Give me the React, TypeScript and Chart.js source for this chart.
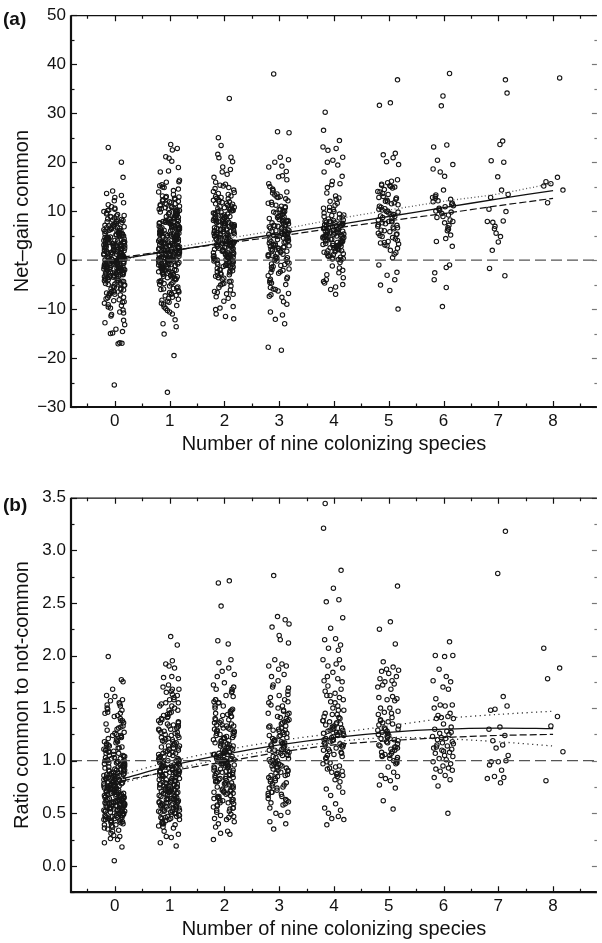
import React, { useEffect, useRef } from 'react';
import { Chart, registerables } from 'chart.js';

Chart.register(...registerables);

const FONT = "'Liberation Sans', Arial, Helvetica, sans-serif";

// Horizontal jitter offsets used to spread the points of one category
const JITTER = [-0.12, 0.07, -0.18, 0.15, -0.03, 0.11, -0.15, 0.02, 0.17, -0.08, 0.05, -0.19, 0.13, -0.01, 0.09, -0.14, 0.16, -0.06, 0.03, -0.17, 0.12, -0.1, 0.08, -0.04, 0.18, -0.13, 0.0, 0.14, -0.16, 0.06, -0.07, 0.1, -0.2, 0.04, -0.11, 0.16, -0.02];

const CATEGORIES = [0, 1, 2, 3, 4, 5, 6, 7, 8];

// ---------- Panel (a): Net-gain common ----------
const A0 = [
  23, -2.1, 5.4, 0.8, -6.3, 3.2, 9.6, -0.5, 1.9, -9.8, 6.7, -3.4, 2.4, 12.1, -1.2, 4.1, -7.6, 0.2, 7.9, -4.8,
  20, 3.6, -1.7, 8.2, -5.1, 1.3, 10.4, -2.9, 5.8, -0.1, -11.4, 2.7, 6.2, -3.8, 0.5, 11.7, -8.3, 4.5, -1.4, 7.1,
  16.9, -0.9, 2.1, -6.7, 5.1, 9.1, -2.4, 3.9, -4.2, 0.9, 8.6, -10.6, 1.6, -0.3, 6.4, -5.7, 3.3, 13.2, -1.9, 4.8,
  14.1, 0.1, -3.6, 7.4, 1.1, -7.9, 5.6, -1.1, 2.9, 9.9, -4.5, 0.4, -12.3, 6.9, -2.6, 3.5, -0.7, 8.1, -5.4, 2.2,
  13.6, -14.1, 4.3, -1.5, 1.7, -8.8, 7.7, -3.1, 5.2, 0.7, -6.1, 10.9, -0.2, 3.1, -9.3, 6.1, -2.2, 1.4, -13.2, 4.6,
  12.8, -14.6, 2.6, -4.1, 8.8, 0.3, -1.8, 5.9, -7.3, 3.8, -0.6, 11.3, -3.3, 1.8, -10.2, 7.2, -5.8, 4.4, -2.7, 0.6,
  -15, 9.3, -1.3, 2.3, -6.5, 6.5, -0.4, 4.9, -11.1, 1.2, -3.9, 8.3, 0.0, -8.1, 3.4, -2.0, 10.1, -4.9, 5.3, -1.0,
  -17.1, 1.5, -7.1, 4.0, -0.8, 7.0, -2.5, 2.0, -9.1, 5.7, -12.8, 0.9, -3.5, 6.0, -1.6, 3.0, -5.2, 8.9, -0.1, 2.5,
  -17.0, -25.5, -16.9, 4.7, -4.4, 0.2, 9.0, -2.8, 1.0, -6.9, 5.5, -14.9, 3.7, -1.3, 10.6, -8.6, 2.8, -0.5, 6.6, -3.0,
  1.3, -2.3, 4.2, -0.6, 2.8, -4.0, 0.4, 5.9, -1.5, 3.0, -6.0, 1.8, -0.2, 6.8, -3.2, 2.1, -1.0, 4.9, -5.5, 0.9,
  3.6, -1.9, 0.2, 7.5, -3.7, 1.5, -0.8, 5.0, -2.6, 2.4, 8.4, -7.0, 0.6, 3.9, -1.3, 6.3, -4.7, 1.1, -2.9, 4.4,
  -0.4, 2.6, -5.0, 5.5, 0.0, -3.0, 3.3, -1.6, 9.4, 1.7, -8.5, 4.7, -0.9, 2.0, -4.3, 7.0, 0.8, -2.1, 3.7, -6.4,
  5.2, -1.1, 1.0, -3.5, 6.0, -0.3, 2.9, -7.7, 4.0, 0.5, -2.4, 8.0, -5.9, 1.4, 3.1, -1.7, 10.2, -0.7, 2.2, -9.6,
  0.3, 4.6, -2.8, 1.9, -4.9, 6.6, -0.1, 3.4, -6.8, 2.7, -1.4, 5.4, -3.3, 0.7, 7.8, -10.8, 1.6, -0.5, 4.1, -2.0,
];
const A1 = [
  23.6, 1.2, 7.8, -3.5, 10.4, 4.1, -0.7, 12.6, 2.5, -6.2, 8.9, 0.3, 5.6, -2.1, 14.8, 3.3, -8.4, 6.7, -1.2, 9.7,
  22.8, 6.1, -4.6, 2.0, 11.5, -0.2, 4.8, -9.1, 8.0, 1.7, -2.9, 13.4, 5.2, -5.5, 3.9, 10.0, -1.6, 7.3, 0.8, -7.3,
  22.5, -0.5, 9.2, 3.0, -3.8, 15.4, 6.5, 1.0, -6.8, 11.1, 4.4, -1.9, 8.4, -10.3, 2.7, 12.1, -0.1, 5.0, -4.2, 7.1,
  21.1, 4.0, -2.4, 10.8, 0.5, -8.0, 7.6, 2.3, 14.2, -5.0, 5.8, -0.9, 9.5, 3.6, -3.1, 12.9, 1.4, -7.6, 6.9, 0.0,
  20.8, 8.6, -1.4, 3.8, 15.9, -4.9, 5.4, 1.9, -9.6, 10.6, -0.4, 6.3, -2.6, 11.9, 4.7, -6.0, 2.9, 8.1, -1.1, 13.9,
  20.2, -3.3, 7.0, 0.6, 12.3, -5.8, 4.2, 9.9, -1.7, 2.1, -8.8, 6.0, 16.0, -0.6, 3.4, -4.4, 10.2, 1.1, -2.0, 5.7,
  18.9, 2.6, -7.0, 11.3, 4.9, -0.3, 8.8, -3.6, 1.5, 14.9, -5.3, 7.4, -1.3, 3.1, -9.9, 9.1, 0.2, 6.6, -2.8, 12.0,
  18.2, -13.0, 5.1, 15.2, -0.8, 3.5, -4.0, 10.5, 1.8, -6.5, 7.7, -11.0, 2.4, 9.3, -2.3, 4.6, -8.2, 6.2, 0.9, 11.7,
  18.0, -13.6, -15.1, -19.5, -27.0, 16.3, 13.1, -10.6, 8.3, 0.4, -3.0, 5.3, -12.2, 2.2, 10.9, -1.5, 4.3, -7.8, 7.9, 1.3,
  3.2, 6.4, -0.4, 9.0, 1.6, -3.2, 5.5, 11.6, 0.1, 7.5, -5.7, 2.8, 4.5, -1.8, 8.7, 13.0, -0.9, 3.7, -7.2, 6.1,
  1.0, 5.0, 10.1, -2.2, 2.9, 7.2, -4.5, 0.7, 4.1, 12.4, -1.0, 6.8, 2.0, -6.3, 9.4, 3.5, -3.0, 5.9, 1.3, 8.0,
  4.8, -0.7, 7.9, 2.4, 10.7, -2.5, 0.4, 5.3, -8.6, 3.0, 6.6, 14.5, -1.4, 1.8, 9.8, 4.2, -4.8, 7.0, 0.0, 11.0,
  2.1, 8.3, -3.4, 5.7, 0.9, 12.8, -1.2, 3.9, 6.9, -5.9, 1.5, 10.4, 4.6, -0.2, 7.6, 2.7, -2.7, 9.1, 0.6, 5.1,
  -0.5, 3.3, 6.2, 1.1, -9.3, 8.5, 4.3, -1.6, 2.5, 11.4, 0.3, 6.5, -3.8, 3.6, 7.8, -0.1, 1.9, 4.9, -6.6, 9.6,
];
const A2 = [
  33, 5.2, -1.4, 9.8, 2.6, 14.6, -4.3, 7.1, 0.6, 11.8, 3.7, -6.6, 8.5, -0.2, 13.0, 4.4, -2.7, 10.3, 1.5, 6.4,
  25.0, 1.1, 7.9, -3.1, 12.5, 4.9, -0.8, 9.0, 2.9, -7.5, 15.5, 5.7, -1.9, 8.2, 0.3, 11.0, -4.8, 6.8, 3.2, -9.5,
  23.4, 8.8, 0.0, 5.9, -5.6, 10.6, 3.5, 13.8, -2.4, 7.4, 1.9, -10.1, 9.4, 4.1, -0.5, 12.2, 6.1, -3.6, 2.3, 15.1,
  21.6, -1.1, 6.6, 11.4, 2.0, -6.1, 8.0, 4.6, 14.3, -2.0, 5.4, 0.9, 10.0, -8.4, 3.0, 7.6, -0.3, 12.8, 1.3, 9.6,
  21.0, 20.9, 4.3, -3.9, 10.8, 2.7, 7.0, -1.6, 15.9, 5.0, -5.1, 8.9, 0.7, 11.6, 3.9, -7.0, 6.3, -0.9, 13.4, 2.2,
  20.1, 19.0, 18.5, -11.0, -11.5, -12.0, -9.8, 17.5, 16.9, 7.3, 1.7, -4.4, 5.6, 10.1, -2.9, 3.4, 8.6, 0.2, 12.0, 4.8,
  18.0, 6.9, -0.6, 9.2, 2.5, -3.3, 11.2, 5.3, 1.0, 14.0, -6.9, 7.8, 3.6, -1.3, 10.5, 0.4, 6.0, -2.2, 8.3, 4.0,
  4.2, 7.5, 1.4, 10.9, -0.7, 5.5, 2.8, 8.7, -3.0, 12.6, 3.3, 6.2, 0.1, 9.3, -5.3, 4.7, 14.8, 1.8, 7.2, -1.7,
  2.6, 6.7, 11.5, 0.5, 4.5, -2.3, 8.1, 3.8, 13.6, -0.4, 5.8, 9.9, 1.2, -6.4, 7.0, 2.1, 10.4, 4.4, -1.1, 6.0,
  5.1, 0.8, 8.4, 3.0, -3.7, 11.9, 6.5, 1.6, 9.0, -0.9, 4.9, 13.1, 2.4, 7.7, -4.9, 5.4, 0.0, 10.7, 3.6, 8.8,
  1.5, 6.3, -2.6, 9.6, 4.0, 12.3, 0.6, 7.4, 2.9, -7.8, 5.9, 10.2, 3.4, -1.4, 8.2, 1.1, 6.8, 15.3, 4.6, -0.2,
];
const A3 = [
  38, 4.5, 12.9, -1.8, 7.6, 2.0, 16.4, -5.6, 9.3, 0.7, 5.8, -3.2, 11.0, 3.1, 8.1, -6.3, 14.5, 1.2, 6.8, -0.4,
  26.2, 7.2, -2.5, 10.4, 4.0, 13.3, -7.6, 5.2, 0.1, 8.9, 2.7, -4.7, 12.1, 6.0, -1.1, 15.0, 3.7, 9.8, -8.5, 4.8,
  26.0, 1.9, 9.0, -3.8, 6.5, 17.2, 3.3, -0.9, 11.6, 5.5, -5.9, 7.9, 2.4, 13.7, -2.1, 8.5, 0.5, 4.2, 10.7, -7.1,
  21.0, 20.5, 20.0, 19.2, 19.0, 18.1, 17.0, 6.3, -1.5, 3.9, 9.6, 1.6, -4.2, 12.5, 5.0, 7.5, -0.2, 2.9, 11.3, 8.3,
  -9.0, -10.6, -11.2, -12.1, -13.0, -17.8, -18.4, 14.2, 4.4, 6.9, 0.9, 10.0, 3.5, -3.5, 8.7, 5.8, 2.2, 13.0, -6.8, 7.0,
  5.4, 1.0, 8.0, -2.7, 3.6, 11.8, 6.2, 0.3, 9.2, 4.1, -5.0, 7.1, 2.6, 13.5, -0.6, 5.9, 10.3, 1.8, -3.9, 7.8,
  3.0, 9.9, 0.8, 6.4, -1.3, 4.6, 12.8, 2.1, 8.4, -7.4, 5.1, 1.4, 10.9, 3.8, -2.4, 7.4, 0.0, 6.6, 15.6, 4.3,
  2.4, 8.8, -0.8, 5.6, 11.2, 1.7, -4.6, 7.0, 3.2, 9.6, 0.4, 6.0, -1.9, 4.9, 13.9, 2.8, 8.1, -6.0, 5.2, 1.1,
];
const A4 = [
  30.2, 6.2, 2.5, 9.4, 4.7, 12.4, 0.9, 7.3, 3.4, 14.8, 5.6, 1.6, 8.8, -1.2, 6.9, 3.9, 11.2, 0.3, 7.9, 4.9,
  26.5, 5.1, 10.3, 2.1, 7.0, -2.1, 4.3, 13.1, 6.5, 0.6, 8.4, 3.0, 15.4, 5.3, -3.0, 9.9, 1.9, 6.0, 3.6, 12.0,
  24.4, 23.1, 22.8, 22.4, 21.0, 20.4, 20.0, 19.4, 18.0, 17.1, 16.1, 15.6, 4.0, 7.6, 1.3, 10.8, 5.8, -4.4, 2.8, 8.1,
  -2.6, -4.0, -5.0, -6.0, -7.0, -4.7, 3.3, 6.6, 0.1, 9.1, 4.6, 13.7, 2.4, 7.1, 5.0, 11.6, 1.0, 8.6, 3.2, 6.3,
  4.1, 7.5, 0.4, 5.6, 2.2, 9.6, 3.7, 6.8, -0.5, 4.8, 1.7, 8.2, 5.4, 2.9, 10.6, 0.0, 6.1, 3.1, 7.7, 4.4,
  5.7, 2.0, 7.2, 3.5, 0.8, 6.4, 4.2, 9.2, 1.4, 5.2, 3.8, 8.0, 2.6, 6.7, -1.6, 4.5, 7.0, 1.9, 5.9, 3.0,
  6.0, 2.3, 8.9, 4.9, 0.2, 7.4, 3.4, 5.5, -3.6, 10.1, 2.7, 6.5, 4.1, 1.1, 12.7, 5.1, 3.9, 7.8, -5.5, 4.6,
];
const A5 = [
  36.8, 15.8, 10.2, 4.6, 12.8, 7.1, 2.9, 14.9, 9.0, 5.8, 11.3, 3.6, 16.1, 8.2, 1.5, 13.4, 6.4, 10.8, 4.0, 12.0,
  32.1, 31.6, 21.8, 21.5, 20.9, 20.1, 19.5, 15.3, 9.6, 5.2, 13.9, 7.8, 3.1, 11.7, 6.9, 15.0, 8.7, 2.4, 10.0, 4.8,
  0.5, -1.0, -2.5, -3.1, -4.0, -5.1, -6.2, -10.0, 14.4, 8.0, 5.5, 12.4, 3.8, 9.3, 6.1, 16.4, 7.4, 2.0, 11.0, 4.3,
  13.0, 6.7, 9.9, 3.3, 15.5, 7.9, 12.7, 5.0, 8.5, 10.5, 1.2, 14.0,
  9.4, 13.6, 6.6, 11.9, 7.6, 14.7, 10.4, 5.3, 12.2, 8.9, 3.5, 15.2, 9.8, 6.0, 11.5, 7.2,
];
const A6 = [38.1, 12.6, 7.6, 19.5, 10.4, -1.5, 11.9, 5.1, 33.5, 9.2, 13.3, 2.8, 18.0, 10.9, -4.0, 8.2, 12.1, 6.6, 31.5, 11.1, 3.8, 14.3, 9.8, -2.6, 23.5, 10.1, 7.1, 12.8, 4.4, 20.4, 11.6, -9.5, 8.7, 6.0, 23.1, 11.4, 9.5, -1.0, 13.0, 17.1, 7.9, 10.6, -5.6, 18.6, 12.4, 8.9, 6.3, 10.0];
const A7 = [36.8, 17.0, 8.0, 12.8, 34.1, 6.9, 23.6, 10.4, -3.2, 7.7, 24.3, 5.5, 13.4, 20.3, 3.7, 9.9, -1.7, 14.3, 6.4, 20.0, 7.9, 4.8, 2.0];
const A8 = [15.1, 37.2, 11.7, 16.9, 15.6, 14.3, 16.0];

// ---------- Panel (b): Ratio common to not-common ----------
const B0 = [
  1.99, 0.72, 0.48, 1.05, 0.61, 1.32, 0.83, 0.39, 0.95, 0.55, 1.18, 0.67, 1.48, 0.78, 0.43, 1.01, 0.58, 0.88, 1.25, 0.52,
  1.77, 0.64, 1.12, 0.47, 0.91, 0.35, 0.76, 1.38, 0.57, 0.99, 0.69, 1.52, 0.44, 0.85, 1.08, 0.60, 0.80, 1.21, 0.50, 0.93,
  1.75, 0.81, 0.41, 1.15, 0.66, 0.97, 0.54, 1.43, 0.74, 0.46, 1.03, 0.62, 1.29, 0.87, 0.38, 0.70, 1.10, 0.56, 0.90, 1.55,
  1.68, 0.59, 1.00, 0.45, 0.79, 1.35, 0.65, 0.31, 0.96, 0.53, 1.19, 0.73, 0.49, 1.06, 0.84, 0.63, 1.45, 0.40, 0.77, 0.92,
  1.62, 0.68, 1.27, 0.51, 0.89, 0.36, 1.13, 0.71, 0.58, 1.50, 0.82, 0.42, 0.98, 0.66, 1.23, 0.55, 0.86, 0.33, 1.04, 0.75,
  1.61, 1.58, 0.62, 0.94, 0.47, 1.40, 0.78, 0.57, 1.09, 0.69, 0.29, 0.84, 1.31, 0.52, 0.99, 0.73, 0.44, 1.16, 0.61, 0.88,
  0.26, 0.25, 0.22, 0.18, 0.05, 0.28, 1.53, 0.64, 1.02, 0.48, 0.83, 1.22, 0.59, 0.76, 0.37, 0.95, 1.46, 0.70, 0.54, 1.07,
  0.80, 0.43, 0.67, 1.11, 0.50, 0.91, 1.36, 0.60, 0.74, 0.34, 1.00, 0.56, 0.86, 1.24, 0.46, 0.79, 0.65, 1.57, 0.53, 0.97,
  0.62, 0.85, 0.50, 0.73, 1.04, 0.58, 0.91, 0.44, 0.68, 1.14, 0.55, 0.79, 0.97, 0.63, 1.26, 0.48, 0.71, 0.88, 0.41, 1.02,
  0.76, 0.53, 0.94, 0.66, 1.09, 0.45, 0.82, 0.60, 1.33, 0.70, 0.51, 0.87, 1.17, 0.57, 0.74, 0.99, 0.39, 0.64, 1.42, 0.81,
  0.56, 0.90, 0.69, 1.20, 0.47, 0.78, 1.05, 0.61, 0.84, 0.52, 1.49, 0.72, 0.95, 0.59, 1.12, 0.43, 0.67, 0.86, 1.30, 0.75,
  0.93, 0.54, 0.80, 1.07, 0.65, 0.49, 0.89, 1.38, 0.71, 0.57, 1.00, 0.77, 0.46, 1.18, 0.63, 0.83, 1.54, 0.68, 0.96, 0.60,
  0.74, 1.03, 0.52, 0.87, 0.66, 1.24, 0.58, 0.79, 0.92, 0.42, 1.10, 0.70, 0.55, 1.45, 0.82, 0.62, 0.98, 0.50, 0.76, 1.15,
];
const B1 = [
  2.18, 0.88, 1.25, 0.52, 1.02, 0.69, 1.48, 0.81, 0.41, 1.12, 0.63, 0.95, 1.36, 0.57, 0.76, 1.60, 0.47, 0.90, 1.19, 0.71,
  2.10, 0.66, 1.08, 0.43, 0.84, 1.30, 0.58, 0.99, 1.55, 0.74, 0.37, 1.15, 0.86, 0.61, 1.42, 0.50, 0.93, 0.79, 1.22, 0.68,
  1.95, 1.03, 0.55, 1.33, 0.77, 0.45, 0.97, 1.65, 0.64, 0.89, 1.17, 0.53, 0.73, 1.44, 0.83, 0.40, 1.06, 0.60, 1.27, 0.92,
  1.92, 0.72, 1.38, 0.49, 0.95, 0.62, 1.21, 0.85, 0.36, 1.52, 0.70, 1.00, 0.56, 1.13, 0.80, 1.68, 0.46, 0.91, 1.29, 0.65,
  1.90, 1.88, 0.59, 1.10, 0.82, 1.46, 0.51, 0.75, 1.04, 0.67, 1.35, 0.44, 0.94, 1.58, 0.78, 0.57, 1.18, 0.87, 0.39, 1.01,
  1.80, 1.79, 1.78, 1.72, 1.70, 0.63, 0.98, 1.24, 0.54, 0.84, 1.40, 0.71, 0.48, 1.09, 0.92, 0.60, 1.31, 0.76, 1.50, 0.86,
  0.30, 0.28, 0.27, 0.22, 0.19, 0.33, 0.96, 0.68, 1.14, 0.42, 0.89, 1.62, 0.58, 1.05, 0.74, 1.26, 0.52, 0.83, 1.43, 0.97,
  0.70, 1.07, 0.55, 0.90, 1.32, 0.64, 0.81, 1.54, 0.45, 1.00, 0.73, 1.20, 0.61, 0.87, 1.11, 0.50, 0.94, 1.37, 0.78, 1.66,
  0.90, 0.62, 1.18, 0.77, 1.41, 0.53, 0.98, 0.70, 1.27, 0.46, 0.85, 1.55, 0.66, 1.06, 0.81, 0.40, 1.33, 0.93, 0.58, 1.12,
  0.74, 1.48, 0.60, 0.88, 1.22, 0.51, 1.01, 0.79, 1.63, 0.67, 0.95, 0.44, 1.16, 0.83, 1.36, 0.56, 0.72, 1.04, 0.89, 1.28,
  0.64, 1.09, 0.48, 0.86, 1.45, 0.75, 0.99, 0.59, 1.20, 0.80, 0.38, 1.52, 0.69, 0.91, 1.14, 0.54, 1.34, 0.77, 1.02, 0.63,
  1.07, 0.71, 1.30, 0.55, 0.94, 1.68, 0.82, 0.47, 1.11, 0.66, 1.39, 0.87, 0.60, 1.24, 0.78, 1.00, 0.52, 1.58, 0.73, 0.96,
];
const B2 = [
  2.71, 1.02, 0.63, 1.38, 0.85, 1.17, 0.49, 1.55, 0.95, 0.72, 1.27, 0.58, 1.08, 1.66, 0.80, 1.44, 0.92, 0.54, 1.20, 0.99,
  2.69, 0.76, 1.31, 0.89, 1.12, 0.45, 1.49, 1.00, 0.67, 1.24, 0.83, 1.70, 0.60, 1.06, 0.94, 1.35, 0.71, 1.15, 0.51, 1.61,
  2.47, 1.09, 0.86, 1.42, 0.64, 1.19, 0.97, 0.42, 1.29, 0.78, 1.04, 1.58, 0.69, 1.14, 0.90, 0.56, 1.33, 1.01, 0.74, 1.52,
  2.14, 2.11, 0.93, 1.22, 0.62, 1.47, 0.81, 1.10, 0.47, 1.36, 0.98, 0.70, 1.65, 1.05, 0.87, 1.26, 0.55, 1.16, 0.77, 1.40,
  1.96, 1.93, 1.88, 1.85, 1.82, 1.80, 1.74, 1.68, 0.37, 0.33, 0.31, 0.30, 0.25, 0.44, 1.03, 0.84, 1.21, 0.66, 0.95, 1.30,
  1.11, 0.73, 1.45, 0.88, 1.00, 0.59, 1.25, 0.96, 1.56, 0.79, 1.07, 0.52, 1.34, 0.91, 1.18, 0.68, 1.50, 1.02, 0.82, 1.13,
  0.99, 1.28, 0.75, 1.09, 0.61, 1.39, 0.94, 1.05, 0.86, 1.72, 1.23, 0.40, 1.14, 0.97, 0.65, 1.31, 1.06, 0.89, 1.43, 1.01,
  1.04, 0.79, 1.33, 0.62, 1.16, 0.91, 1.48, 0.70, 1.08, 0.53, 1.26, 0.97, 1.62, 0.84, 1.12, 0.66, 1.39, 0.89, 1.01, 0.57,
  1.21, 0.75, 1.45, 0.93, 0.48, 1.30, 1.06, 0.81, 1.55, 0.69, 1.15, 0.99, 0.60, 1.36, 0.87, 1.10, 0.72, 1.68, 0.95, 1.24,
  0.83, 1.13, 0.64, 1.42, 1.00, 0.77, 1.28, 0.55, 1.19, 0.90, 1.52, 0.71, 1.07, 0.46, 1.34, 0.96, 0.80, 1.22, 0.63, 1.58,
];
const B3 = [
  2.76, 1.12, 0.74, 1.45, 0.95, 1.28, 0.62, 1.60, 1.05, 0.83, 1.37, 0.69, 1.18, 1.72, 0.91, 1.50, 1.00, 0.58, 1.24, 1.09,
  2.37, 2.34, 0.86, 1.41, 1.02, 1.19, 0.66, 1.55, 0.93, 1.30, 0.77, 1.14, 1.66, 0.88, 1.07, 0.55, 1.33, 0.97, 1.47, 0.72,
  2.30, 2.27, 2.19, 1.26, 0.80, 1.16, 0.98, 1.58, 0.64, 1.35, 1.04, 0.90, 1.76, 1.21, 0.75, 1.10, 1.44, 0.85, 1.29, 0.60,
  2.15, 2.12, 1.96, 1.92, 1.90, 1.90, 1.87, 1.82, 1.80, 0.51, 0.50, 0.48, 0.42, 0.40, 0.35, 1.13, 0.94, 1.39, 0.70, 1.23,
  1.06, 0.82, 1.52, 0.99, 1.17, 0.67, 1.31, 0.92, 1.63, 1.08, 0.78, 1.27, 1.01, 0.87, 1.42, 0.59, 1.15, 0.96, 1.69, 1.20,
  1.11, 0.84, 1.40, 0.97, 1.25, 0.70, 1.56, 1.03, 0.89, 1.33, 0.63, 1.19, 1.48, 0.93, 1.08, 0.76, 1.62, 1.22, 0.99, 1.36,
  0.81, 1.14, 1.45, 0.68, 1.29, 1.05, 0.91, 1.70, 1.17, 0.74, 1.38, 1.00, 0.86, 1.53, 1.24, 0.61, 1.10, 0.95, 1.32, 0.79,
];
const B4 = [
  3.445, 1.25, 1.62, 0.95, 1.38, 1.12, 1.71, 0.86, 1.30, 1.05, 1.52, 1.20, 0.90, 1.44, 1.16, 1.34, 0.82, 1.58, 1.09, 1.27,
  3.21, 2.81, 2.64, 2.53, 2.51, 2.36, 2.26, 2.16, 2.15, 2.10, 2.07, 2.05, 1.22, 1.48, 0.99, 1.33, 1.14, 1.66, 0.88, 1.29,
  1.96, 1.96, 1.92, 1.90, 1.88, 1.84, 1.80, 1.78, 1.76, 1.75, 1.19, 1.40, 1.02, 1.55, 1.26, 0.93, 1.36, 1.10, 1.68, 1.23,
  0.75, 0.73, 0.70, 0.67, 0.59, 0.55, 0.53, 0.50, 0.47, 0.45, 0.44, 0.39, 1.31, 1.07, 1.45, 0.85, 1.18, 1.60, 0.97, 1.35,
  1.28, 1.13, 1.50, 0.92, 1.24, 1.42, 1.04, 1.32, 0.80, 1.21, 1.64, 1.15, 1.37, 0.87, 1.26, 1.08,
  1.20, 1.41, 1.03, 1.29, 1.56, 0.94, 1.17, 1.35, 1.11, 1.48, 0.89, 1.24, 1.62, 1.06, 1.31, 1.15, 1.44, 0.98, 1.27, 1.38,
];
const B5 = [
  2.66, 1.22, 1.05, 1.35, 1.15, 0.98, 1.28, 1.10, 1.39, 1.02, 1.19, 1.31, 1.07, 1.25, 1.13, 1.37, 1.00, 1.21, 1.16, 1.30,
  2.32, 2.25, 2.11, 1.94, 1.89, 1.87, 1.86, 1.85, 1.83, 1.80, 1.78, 1.76, 1.75, 1.73, 1.70, 1.68, 1.72, 1.12, 1.26, 1.04,
  1.61, 1.60, 1.59, 1.58, 1.57, 1.50, 1.50, 1.47, 1.46, 1.45, 1.44, 0.97, 0.94, 0.89, 0.86, 0.85, 0.83, 0.81, 0.77, 0.74,
  0.62, 0.54, 1.18, 1.33, 1.08, 1.24, 0.99, 1.14, 1.41, 1.06, 1.20, 1.29, 1.11, 1.36, 1.03,
  1.17, 1.27, 1.09, 1.34, 1.01, 1.23, 1.13, 1.38, 1.05, 1.30,
];
const B6 = [2.13, 2.00, 1.99, 2.00, 1.87, 1.80, 1.76, 1.75, 1.70, 1.68, 1.59, 1.53, 1.53, 1.52, 1.50, 1.45, 1.43, 1.42, 1.41, 1.40, 1.40, 1.35, 1.32, 1.30, 1.28, 1.26, 1.25, 1.23, 1.21, 1.20, 1.18, 1.17, 1.15, 1.14, 1.12, 1.11, 1.10, 1.08, 1.07, 1.05, 1.04, 1.02, 1.01, 0.99, 0.97, 0.95, 0.93, 0.92, 0.91, 0.90, 0.86, 0.84, 0.82, 0.76, 0.50, 1.22, 1.16, 1.13, 1.09, 1.27];
const B7 = [3.18, 2.78, 1.61, 1.48, 1.52, 1.49, 1.32, 1.30, 1.24, 1.19, 1.15, 1.12, 1.05, 0.99, 0.99, 1.00, 0.96, 0.91, 0.85, 0.84, 0.83, 0.79];
const B8 = [2.07, 1.88, 1.78, 1.42, 1.33, 1.085, 0.81];

// ---------- Fitted curves ----------
const FIT_X = [0.15, 1, 2, 3, 4, 5, 6, 7, 8];
const A_SOLID = [0.3, 1.8, 3.6, 5.4, 7.1, 8.9, 10.7, 12.5, 14.2];
const A_DASHED = [0.6, 1.9, 3.4, 4.9, 6.5, 8.0, 9.5, 11.1, 12.6];
const A_DOTTED = [0.0, 2.3, 4.3, 6.2, 8.3, 10.2, 12.0, 13.5, 15.7];
const B_SOLID = [0.83, 0.95, 1.06, 1.15, 1.22, 1.27, 1.30, 1.31, 1.305];
const B_DASHED = [0.81, 0.90, 0.99, 1.08, 1.15, 1.19, 1.22, 1.24, 1.25];
const B_UPPER = [0.87, 0.99, 1.10, 1.19, 1.26, 1.33, 1.40, 1.44, 1.47];
const B_LOWER = [0.79, 0.91, 1.02, 1.11, 1.18, 1.22, 1.21, 1.18, 1.14];

// ---------- Axes ----------
const X_MIN = -0.8;
const X_MAX = 8.8;
const X_TICK_VALUES = [-0.5, 0, 0.5, 1, 1.5, 2, 2.5, 3, 3.5, 4, 4.5, 5, 5.5, 6, 6.5, 7, 7.5, 8, 8.5];
const X_TICK_LABELS = ['', '0', '', '1', '', '2', '', '3', '', '4', '', '5', '', '6', '', '7', '', '8', ''];
const A_Y_TICK_VALUES = [-30, -25, -20, -15, -10, -5, 0, 5, 10, 15, 20, 25, 30, 35, 40, 45, 50];
const A_Y_TICK_LABELS = ['−30', '', '−20', '', '−10', '', '0', '', '10', '', '20', '', '30', '', '40', '', '50'];
const B_Y_TICK_VALUES = [-0.25, 0, 0.25, 0.5, 0.75, 1, 1.25, 1.5, 1.75, 2, 2.25, 2.5, 2.75, 3, 3.25, 3.5];
const B_Y_TICK_LABELS = ['', '0.0', '', '0.5', '', '1.0', '', '1.5', '', '2.0', '', '2.5', '', '3.0', '', '3.5'];

type Fit = { values: number[]; dash: number[]; color: string; width: number };
type PanelSpec = {
  tag: string;
  groups: number[][];
  fits: Fit[];
  refY: number;
  yMin: number;
  yMax: number;
  yTicks: number[];
  yLabels: string[];
  yTitle: string;
  xTitle: string;
  height: number;
  padTop: number;
  xAxisHeight: number;
  xTitlePad: number;
  xTickPad: number;
  tagTop: number;
};

const PANEL_A: PanelSpec = {
  tag: '(a)',
  groups: [A0, A1, A2, A3, A4, A5, A6, A7, A8],
  fits: [
    { values: A_SOLID, dash: [], color: '#111', width: 1.3 },
    { values: A_DASHED, dash: [7, 3], color: '#111', width: 1.2 },
    { values: A_DOTTED, dash: [1, 2.5], color: '#555', width: 1.3 },
  ],
  refY: 0,
  yMin: -30,
  yMax: 50,
  yTicks: A_Y_TICK_VALUES,
  yLabels: A_Y_TICK_LABELS,
  yTitle: 'Net–gain common',
  xTitle: 'Number of nine colonizing species',
  height: 470,
  padTop: 13,
  xAxisHeight: 63,
  xTitlePad: 14,
  xTickPad: 4,
  tagTop: 9,
};

const PANEL_B: PanelSpec = {
  tag: '(b)',
  groups: [B0, B1, B2, B3, B4, B5, B6, B7, B8],
  fits: [
    { values: B_SOLID, dash: [], color: '#111', width: 1.3 },
    { values: B_DASHED, dash: [7, 3], color: '#111', width: 1.2 },
    { values: B_UPPER, dash: [1.2, 3.5], color: '#333', width: 1.3 },
    { values: B_LOWER, dash: [1.2, 3.5], color: '#333', width: 1.3 },
  ],
  refY: 1,
  yMin: -0.25,
  yMax: 3.5,
  yTicks: B_Y_TICK_VALUES,
  yLabels: B_Y_TICK_LABELS,
  yTitle: 'Ratio common to not-common',
  xTitle: 'Number of nine colonizing species',
  height: 473,
  padTop: 27.7,
  xAxisHeight: 50.8,
  xTitlePad: 2,
  xTickPad: 4,
  tagTop: 25,
};

function jittered(groups: number[][]) {
  const pts: { x: number; y: number }[] = [];
  groups.forEach((ys, c) => {
    ys.forEach((y, i) => {
      pts.push({ x: CATEGORIES[c] + JITTER[(i + c * 7) % JITTER.length], y });
    });
  });
  return pts;
}

const framePlugin = {
  id: 'frame',
  afterDatasetsDraw(chart: any) {
    const { ctx, chartArea } = chart;
    const { left, right, top, bottom } = chartArea;
    const xs = chart.scales.x;
    const ys = chart.scales.y;
    ctx.save();
    ctx.lineCap = 'butt';
    ctx.strokeStyle = '#111';
    ctx.lineWidth = 1.2;
    xs.ticks.forEach((t: any) => {
      const px = Math.round(xs.getPixelForValue(t.value)) + 0.5;
      const len = t.label ? 6 : 3.5;
      ctx.beginPath();
      ctx.moveTo(px, bottom);
      ctx.lineTo(px, bottom - len);
      ctx.moveTo(px, top);
      ctx.lineTo(px, top + len);
      ctx.stroke();
    });
    ys.ticks.forEach((t: any) => {
      const py = Math.round(ys.getPixelForValue(t.value)) + 0.5;
      const len = t.label ? 6 : 3.5;
      ctx.strokeStyle = '#111';
      ctx.beginPath();
      ctx.moveTo(left, py);
      ctx.lineTo(left + len, py);
      ctx.stroke();
      ctx.strokeStyle = '#777';
      ctx.beginPath();
      ctx.moveTo(right, py);
      ctx.lineTo(right - len + 1, py);
      ctx.stroke();
    });
    ctx.strokeStyle = '#111';
    ctx.lineWidth = 2.2;
    ctx.beginPath();
    ctx.moveTo(left, top);
    ctx.lineTo(left, bottom);
    ctx.lineTo(right, bottom);
    ctx.stroke();
    ctx.lineWidth = 1.3;
    ctx.beginPath();
    ctx.moveTo(left, top + 0.5);
    ctx.lineTo(right, top + 0.5);
    ctx.stroke();
    ctx.restore();
  },
};

function buildConfig(spec: PanelSpec): any {
  const datasets: any[] = [];
  spec.fits.forEach((f) => {
    datasets.push({
      data: FIT_X.map((x, i) => ({ x, y: f.values[i] })),
      showLine: true,
      borderColor: f.color,
      borderWidth: f.width,
      borderDash: f.dash,
      pointRadius: 0,
      tension: 0.3,
      order: 0,
    });
  });
  datasets.push({
    data: [
      { x: X_MIN, y: spec.refY },
      { x: X_MAX, y: spec.refY },
    ],
    showLine: true,
    borderColor: '#555',
    borderWidth: 1.3,
    borderDash: [11, 5],
    pointRadius: 0,
    order: 1,
  });
  datasets.push({
    data: jittered(spec.groups),
    showLine: false,
    pointRadius: 2.2,
    pointBorderWidth: 1.1,
    pointBorderColor: '#151515',
    pointBackgroundColor: 'rgba(0,0,0,0)',
    order: 2,
  });

  return {
    type: 'scatter',
    data: { datasets },
    plugins: [framePlugin],
    options: {
      animation: false,
      responsive: false,
      devicePixelRatio: 1,
      events: [],
      layout: { padding: { top: spec.padTop, right: 0, bottom: 0, left: 0 } },
      plugins: { legend: { display: false }, tooltip: { enabled: false } },
      scales: {
        x: {
          type: 'linear',
          min: X_MIN,
          max: X_MAX,
          grid: { display: false, drawTicks: false },
          border: { display: false },
          afterBuildTicks: (s: any) => {
            s.ticks = X_TICK_VALUES.map((v) => ({ value: v }));
          },
          afterFit: (s: any) => {
            s.height = spec.xAxisHeight;
          },
          ticks: {
            autoSkip: false,
            maxRotation: 0,
            padding: spec.xTickPad,
            color: '#111',
            font: { family: FONT, size: 17 },
            callback: (_v: any, i: number) => X_TICK_LABELS[i],
          },
          title: {
            display: true,
            text: spec.xTitle,
            color: '#111',
            font: { family: FONT, size: 20 },
            padding: { top: 0, bottom: spec.xTitlePad },
          },
        },
        y: {
          type: 'linear',
          min: spec.yMin,
          max: spec.yMax,
          grid: { display: false, drawTicks: false },
          border: { display: false },
          afterBuildTicks: (s: any) => {
            s.ticks = spec.yTicks.map((v) => ({ value: v }));
          },
          afterFit: (s: any) => {
            s.width = 71;
          },
          ticks: {
            autoSkip: false,
            padding: 5,
            color: '#111',
            font: { family: FONT, size: 17 },
            callback: (_v: any, i: number) => spec.yLabels[i],
          },
          title: {
            display: true,
            text: spec.yTitle,
            color: '#111',
            font: { family: FONT, size: 20 },
            padding: { top: 10, bottom: 0 },
          },
        },
      },
    },
  };
}

function Panel({ spec }: { spec: PanelSpec }) {
  const ref = useRef<HTMLCanvasElement>(null);
  useEffect(() => {
    const chart = new Chart(ref.current as HTMLCanvasElement, buildConfig(spec));
    return () => chart.destroy();
  }, [spec]);
  return (
    <div style={{ position: 'relative', width: 602, height: spec.height }}>
      <canvas ref={ref} width={602} height={spec.height} style={{ display: 'block', width: 602, height: spec.height }} />
      <div
        style={{
          position: 'absolute',
          left: 3,
          top: spec.tagTop,
          fontFamily: FONT,
          fontWeight: 'bold',
          fontSize: 19,
          lineHeight: '19px',
          color: '#111',
        }}
      >
        {spec.tag}
      </div>
    </div>
  );
}

export default function App() {
  return (
    <div style={{ position: 'absolute', left: 0, top: 0, width: 602, height: 943, background: '#fff', overflow: 'hidden' }}>
      <Panel spec={PANEL_A} />
      <Panel spec={PANEL_B} />
    </div>
  );
}
